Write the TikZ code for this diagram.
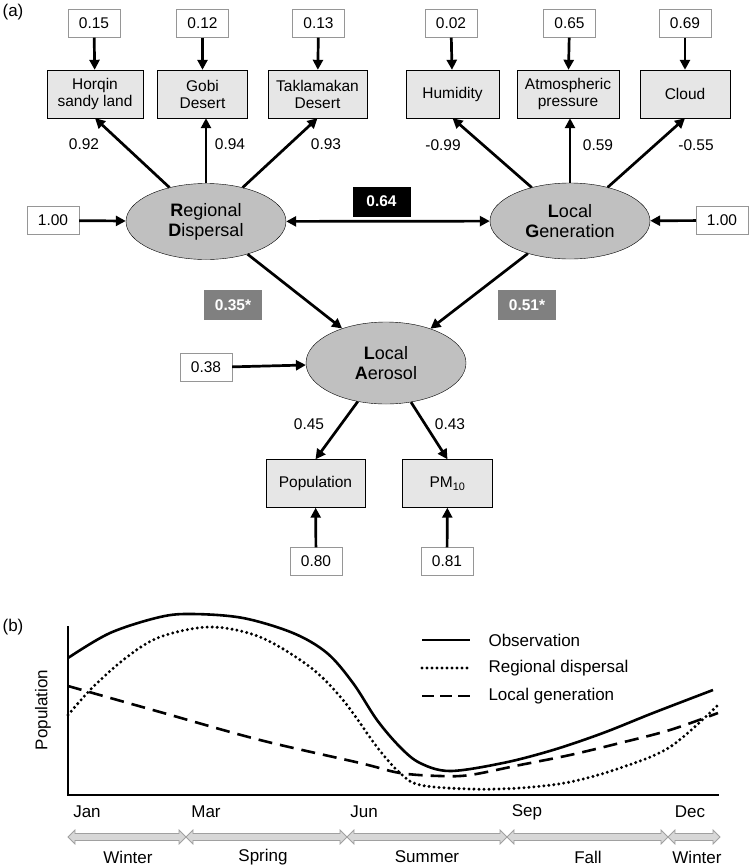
\documentclass[tikz,border=0pt]{standalone}
\usepackage{fontspec}
\setmainfont{Liberation Sans}
\definecolor{semfill}{RGB}{230,230,230}
\definecolor{latfill}{RGB}{192,192,192}
\definecolor{coefgray}{RGB}{128,128,128}
\definecolor{errline}{RGB}{150,150,150}
\definecolor{seasonfill}{RGB}{215,215,215}
\definecolor{seasonline}{RGB}{160,160,160}
\usetikzlibrary{arrows.meta,shapes.geometric,calc}
\newcommand{\boxfont}{\fontsize{15.5}{17}\selectfont}
\newcommand{\latfont}{\fontsize{18}{20}\selectfont}
\newcommand{\axfont}{\fontsize{17}{19}\selectfont}

\begin{document}
\begin{tikzpicture}[x=1pt, y=-1pt,
    errbox/.style={draw=errline, fill=white, minimum width=52, minimum height=28, inner sep=0pt, font=\boxfont},
    obsbox/.style={draw=black, fill=semfill, minimum width=90, minimum height=48, inner xsep=8pt, align=center, font=\boxfont},
    latent/.style={ellipse, draw=black, fill=latfill, minimum width=160, minimum height=76, inner sep=0pt, align=center, font=\latfont},
    coefbox/.style={fill=coefgray, text=white, minimum width=58, minimum height=30, inner sep=0pt, font=\boxfont\bfseries},
    lbl/.style={font=\boxfont, inner sep=1pt},
    path/.style={line width=2.7pt, -{Triangle[length=10pt,width=10pt]}},
    curve/.style={line width=2.6pt, smooth, tension=0.55},
    dots/.style={line width=3.3pt, line cap=round, dash pattern=on 0pt off 5pt},
    season/.style={font=\axfont}]
  \useasboundingbox (0,0) rectangle (749,868);

  % ---------- (a) structural model ----------
  \node[font=\axfont] (tag-a) at (13,12) {(a)};

  % Latent variables
  \node[latent] (rd) at (206,221.5) {\textbf{R}egional\\\textbf{D}ispersal};
  \node[latent] (lg) at (570,221) {\textbf{L}ocal\\\textbf{G}eneration};
  \node[latent, minimum height=82] (la) at (386,363) {\textbf{L}ocal\\\textbf{A}erosol};

  % Indicators
  \node[obsbox, minimum width=96] (hq) at (95,94) {Horqin\\sandy land};
  \node[obsbox] (gobi) at (202.5,94) {Gobi\\Desert};
  \node[obsbox] (takla) at (317.5,94) {Taklamakan\\Desert};
  \node[obsbox, minimum width=93] (humid) at (452.5,94) {Humidity};
  \node[obsbox] (atmos) at (568,94) {Atmospheric\\pressure};
  \node[obsbox] (cloud) at (685,94) {Cloud};
  \node[obsbox, minimum width=99] (pop) at (315.5,483.5) {Population};
  \node[obsbox] (pm) at (447.5,483.5) {PM\textsubscript{10}};

  % Error terms
  \node[errbox] (e-hq) at (94,23.5) {0.15};
  \node[errbox] (e-gobi) at (202.5,23.5) {0.12};
  \node[errbox] (e-takla) at (318.5,23.5) {0.13};
  \node[errbox] (e-humid) at (451,23.5) {0.02};
  \node[errbox] (e-atmos) at (569.5,23.5) {0.65};
  \node[errbox] (e-cloud) at (685,23.5) {0.69};
  \node[errbox] (e-rd) at (53,220.5) {1.00};
  \node[errbox] (e-lg) at (722,220.5) {1.00};
  \node[errbox] (e-la) at (206,367.5) {0.38};
  \node[errbox] (e-pop) at (316,561.5) {0.80};
  \node[errbox] (e-pm) at (447,561.5) {0.81};

  % Path coefficients
  \node[coefbox, fill=black] (c-rdlg) at (381.5,201.5) {0.64};
  \node[coefbox] (c-rdla) at (233,305) {0.35*};
  \node[coefbox] (c-lgla) at (527,305) {0.51*};

  % Loadings
  \node[lbl] (l-hq) at (84,144) {0.92};
  \node[lbl] (l-gobi) at (230,144) {0.94};
  \node[lbl] (l-takla) at (326,144) {0.93};
  \node[lbl] (l-humid) at (443,145) {-0.99};
  \node[lbl] (l-atmos) at (598,145) {0.59};
  \node[lbl] (l-cloud) at (696,145) {-0.55};
  \node[lbl] (l-pop) at (309,424) {0.45};
  \node[lbl] (l-pm) at (450,424) {0.43};

  % Arrows
  \foreach \ind in {hq,gobi,takla,humid,atmos,cloud}
    \draw[path] (e-\ind) -- (\ind);
  \draw[path] (e-pop) -- (pop);
  \draw[path] (e-pm) -- (pm);
  \draw[path] (e-rd) -- (rd);
  \draw[path] (e-lg) -- (lg);
  \draw[path] (e-la) -- (la);
  \draw[path] (rd) -- (hq.south);
  \draw[path] (rd) -- (gobi.south -| rd);
  \draw[path] (rd) -- (takla.south);
  \draw[path] (lg) -- (humid.south);
  \draw[path] (lg) -- (atmos.south -| lg);
  \draw[path] (lg) -- (cloud.south);
  \draw[path, {Triangle[length=10pt,width=10pt]}-{Triangle[length=10pt,width=10pt]}] (rd) -- (lg);
  \draw[path] (rd) -- (la);
  \draw[path] (lg) -- (la);
  \draw[path] (la) -- (pop.north);
  \draw[path] (la) -- (pm.north);

  % ---------- (b) seasonal pattern ----------
  \node[font=\axfont] (tag-b) at (13,627) {(b)};

  % Axes
  \draw[line width=2.8pt] (68,626) -- (68,795) -- (719,795);
  \node[font=\axfont, rotate=90] (ylab) at (43,710) {Population};

  % Curves
  \draw[curve] plot coordinates {(68,658) (110,633) (160,617) (193,614) (243,618) (293,633) (327,653) (353,683) (377,720) (400,747) (420,763) (450,771) (503,763) (553,750) (603,733) (653,713) (713,690)};
  \draw[curve, dots] plot coordinates {(68,715) (93,687) (127,657) (160,637) (210,627) (260,637) (310,667) (343,700) (377,747) (400,773) (420,785) (470,789) (520,788) (570,782) (620,768) (670,747) (717,706)};
  \draw[curve, dash pattern=on 14pt off 8pt] plot coordinates {(68,686) (160,712) (260,740) (360,763) (400,773) (440,776) (470,775) (520,765) (570,755) (620,743) (670,730) (718,713)};

  % Legend
  \coordinate (lg-a) at (422,640); \coordinate (lg-b) at (470,640);
  \draw[line width=2.6pt] (lg-a) -- (lg-b);
  \draw[dots] ($(lg-a)+(0,28)$) -- ($(lg-b)+(0,28)$);
  \draw[line width=2.6pt, dash pattern=on 12pt off 6pt] ($(lg-a)+(0,56)$) -- ($(lg-b)+(0,56)$);
  \node[font=\axfont, anchor=west] (leg-obs) at (485,640) {Observation};
  \node[font=\axfont, anchor=west] (leg-rd) at (485,668) {Regional dispersal};
  \node[font=\axfont, anchor=west] (leg-lg) at (485,696) {Local generation};

  % Months
  \node[font=\axfont] (m-jan) at (87,812) {Jan};
  \node[font=\axfont] (m-mar) at (206,812) {Mar};
  \node[font=\axfont] (m-jun) at (364,812) {Jun};
  \node[font=\axfont] (m-sep) at (527,812) {Sep};
  \node[font=\axfont] (m-dec) at (690,812) {Dec};

  % Season arrows
  \foreach \xa/\xb in {68/186,186/347,347/507,507/668,668/720}
    \filldraw[fill=seasonfill, draw=seasonline, line width=0.8pt]
      (\xa,837) -- ({\xa+7},830) -- ({\xa+7},833.5) -- ({\xb-7},833.5) -- ({\xb-7},830) -- (\xb,837)
      -- ({\xb-7},844) -- ({\xb-7},840.5) -- ({\xa+7},840.5) -- ({\xa+7},844) -- cycle;
  \node[season] (s-win1) at (128,857) {Winter};
  \node[season] (s-spr) at (263,857) {Spring};
  \node[season] (s-sum) at (427,857) {Summer};
  \node[season] (s-fal) at (588,857) {Fall};
  \node[season] (s-win2) at (697,857) {Winter};
\end{tikzpicture}
\end{document}
